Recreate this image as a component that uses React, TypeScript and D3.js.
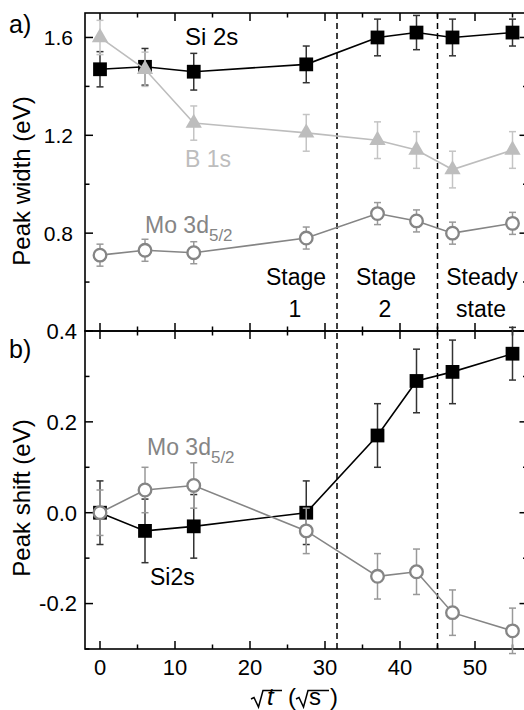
import React from "react";
import * as d3 from "d3";

const xs = [0, 6, 12.5, 27.5, 37, 42.2, 47, 55];
const siWidth = [1.47, 1.48, 1.46, 1.49, 1.6, 1.62, 1.6, 1.62];
const siWidthErr = [0.072, 0.075, 0.075, 0.075, 0.075, 0.07, 0.075, 0.055];
const bWidth = [1.6, 1.47, 1.25, 1.21, 1.18, 1.14, 1.06, 1.14];
const bWidthErr = [0.07, 0.07, 0.07, 0.075, 0.075, 0.075, 0.075, 0.075];
const moWidth = [0.71, 0.73, 0.72, 0.78, 0.88, 0.85, 0.8, 0.84];
const moWidthErr = [0.045, 0.045, 0.045, 0.045, 0.045, 0.045, 0.045, 0.045];
const siShift = [0, -0.04, -0.03, 0, 0.17, 0.29, 0.31, 0.35];
const siShiftErr = [0.07, 0.07, 0.07, 0.07, 0.07, 0.07, 0.07, 0.058];
const moShift = [0, 0.05, 0.06, -0.04, -0.14, -0.13, -0.22, -0.26];
const moShiftErr = [0.05, 0.05, 0.05, 0.05, 0.05, 0.05, 0.05, 0.05];
const stageBounds = [31.6, 45];
const xTicks = [0, 10, 20, 30, 40, 50];
const topYTicks = [0.8, 1.2, 1.6];
const topYMajor = [0.4, 0.8, 1.2, 1.6];
const botYTicks = [-0.2, 0.0, 0.2, 0.4];

const FONT = "'Liberation Sans', Arial, Helvetica, sans-serif";
const BLACK = "#000";
const LIGHT = "#bdbdbd";
const GRAY = "#858585";

const W = 524, H = 710;
const x = d3.scaleLinear().domain([-2, 57]).range([85, 527.5]);
const yTop = d3.scaleLinear().domain([0.4, 1.7]).range([331, 13]);
const yBot = d3.scaleLinear().domain([-0.3, 0.4]).range([649, 331]);

type Scale = d3.ScaleLinear<number, number>;

const fmt = (v: number) => d3.format(".1f")(v).replace("\u2212", "-");

function Series({ vals, errs, y, color, errColor, kind }: { vals: number[]; errs: number[]; y: Scale; color: string; errColor: string; kind: string }) {
  const line = d3.line<number>().x((_, i) => x(xs[i])).y((v) => y(v));
  const sym = kind === "square" ? d3.symbol(d3.symbolSquare, 190)() : kind === "triangle" ? d3.symbol(d3.symbolTriangle, 115)() : null;
  return (
    <g>
      <path d={line(vals) || ""} fill="none" stroke={color} strokeWidth={1.6} />
      {vals.map((v, i) => {
        const cx = x(xs[i]);
        const y1 = y(v + errs[i]);
        const y2 = y(v - errs[i]);
        return (
          <g key={"e" + i} stroke={errColor} strokeWidth={1.5}>
            <line x1={cx} x2={cx} y1={y1} y2={y2} />
            <line x1={cx - 3.5} x2={cx + 3.5} y1={y1} y2={y1} />
            <line x1={cx - 3.5} x2={cx + 3.5} y1={y2} y2={y2} />
          </g>
        );
      })}
      {vals.map((v, i) => {
        const cx = x(xs[i]);
        const cy = y(v);
        if (kind === "circle") {
          return <circle key={"m" + i} cx={cx} cy={cy} r={6.3} fill="#fff" stroke={color} strokeWidth={2.3} />;
        }
        return <path key={"m" + i} d={sym || ""} transform={`translate(${cx},${cy})`} fill={color} />;
      })}
    </g>
  );
}

function Frame({ y, top, bottom, yMajor, yLabels, yMinorStep, labelX, labelSize }: { y: Scale; top: number; bottom: number; yMajor: number[]; yLabels: number[]; yMinorStep: number; labelX: number; labelSize: number }) {
  const xMinor = d3.range(0, 60, 5);
  const [d0, d1] = y.domain();
  const yAll = d3.range(Math.round(d0 / yMinorStep), Math.round(d1 / yMinorStep) + 1).map((k) => k * yMinorStep);
  const isMajor = (v: number) => yMajor.some((m) => Math.abs(m - v) < 1e-6);
  const x0 = x.range()[0];
  const x1 = x.range()[1];
  return (
    <g>
      <g stroke={BLACK} strokeWidth={1.5}>
        {xMinor.map((t) => {
          const len = t % 10 === 0 ? 8 : 4.5;
          return (
            <g key={"xt" + t}>
              <line x1={x(t)} x2={x(t)} y1={top} y2={top + len} />
              <line x1={x(t)} x2={x(t)} y1={bottom} y2={bottom - len} />
            </g>
          );
        })}
        {yAll.map((v) => {
          const len = isMajor(v) ? 8 : 4.5;
          return (
            <g key={"yt" + v}>
              <line x1={x0} x2={x0 + len} y1={y(v)} y2={y(v)} />
              <line x1={x1} x2={x1 - len} y1={y(v)} y2={y(v)} />
            </g>
          );
        })}
      </g>
      <rect x={x0} y={top} width={x1 - x0} height={bottom - top} fill="none" stroke={BLACK} strokeWidth={1.6} />
      {yLabels.map((v) => (
        <text key={"yl" + v} x={labelX} y={y(v)} dy="0.36em" textAnchor="end" fontSize={labelSize} fontFamily={FONT} fill={BLACK}>
          {fmt(v)}
        </text>
      ))}
    </g>
  );
}

export default function App() {
  return (
    <svg width={W} height={H} style={{ position: "absolute", left: 0, top: 0, background: "#fff" }} fontFamily={FONT}>
      <rect width={W} height={H} fill="#fff" />
      <Frame y={yTop} top={13} bottom={331} yMajor={topYMajor} yLabels={topYTicks} yMinorStep={0.2} labelX={73} labelSize={21} />
      <Frame y={yBot} top={331} bottom={649} yMajor={botYTicks} yLabels={botYTicks} yMinorStep={0.1} labelX={77} labelSize={22} />
      {/* stage boundaries */}
      {stageBounds.map((b) => (
        <line key={b} x1={x(b)} x2={x(b)} y1={13} y2={649} stroke={BLACK} strokeWidth={1.5} strokeDasharray="6,4" />
      ))}
      {/* top panel series */}
      <Series vals={moWidth} errs={moWidthErr} y={yTop} color={GRAY} errColor="#999" kind="circle" />
      <Series vals={siWidth} errs={siWidthErr} y={yTop} color={BLACK} errColor="#333" kind="square" />
      <Series vals={bWidth} errs={bWidthErr} y={yTop} color={LIGHT} errColor="#c4c4c4" kind="triangle" />
      {/* bottom panel series */}
      <Series vals={siShift} errs={siShiftErr} y={yBot} color={BLACK} errColor="#333" kind="square" />
      <Series vals={moShift} errs={moShiftErr} y={yBot} color={GRAY} errColor="#999" kind="circle" />

      {/* x tick labels */}
      {xTicks.map((t) => (
        <text key={"xl" + t} x={x(t)} y={675} textAnchor="middle" fontSize={22} fill={BLACK}>
          {t}
        </text>
      ))}

      {/* panel letters */}
      <text x={9} y={33} fontSize={25} fill={BLACK}>a)</text>
      <text x={9} y={358} fontSize={25} fill={BLACK}>b)</text>

      {/* axis titles */}
      <text transform="translate(30,181) rotate(-90)" textAnchor="middle" fontSize={24} fill={BLACK}>Peak width (eV)</text>
      <text transform="translate(30,498) rotate(-90)" textAnchor="middle" fontSize={24} fill={BLACK}>Peak shift (eV)</text>

      {/* series labels, top */}
      <text x={185} y={45} fontSize={24} fill={BLACK}>Si 2s</text>
      <text x={185} y={167} fontSize={23} fill={LIGHT}>B 1s</text>
      <text x={145} y={233} fontSize={23} fill={GRAY}>
        Mo 3d<tspan fontSize={17} dy={8}>5/2</tspan>
      </text>
      {/* series labels, bottom */}
      <text x={147} y={455} fontSize={23} fill={GRAY}>
        Mo 3d<tspan fontSize={17} dy={8}>5/2</tspan>
      </text>
      <text x={150} y={585} fontSize={23} fill={BLACK}>Si2s</text>

      {/* stage labels */}
      <g fontSize={23} fill={BLACK} textAnchor="middle">
        <text x={296} y={285}>Stage</text>
        <text x={295} y={317}>1</text>
        <text x={386} y={285}>Stage</text>
        <text x={385} y={317}>2</text>
        <text x={482} y={285}>Steady</text>
        <text x={481} y={317}>state</text>
      </g>

      {/* x axis title: sqrt(t) (sqrt(s)) */}
      <g fill="none" stroke={BLACK} strokeWidth={1.5} strokeLinejoin="miter">
        <path d="M251,699 L254,697.5 L258.5,707 L263,690.5 L282,690.5" />
        <path d="M296,699 L299,697.5 L303.5,707 L308,690.5 L329,690.5" />
      </g>
      <g fill={BLACK} fontSize={24}>
        <text x={267} y={705} fontStyle="italic">t</text>
        <text x={288} y={705}>(</text>
        <text x={309} y={705}>s</text>
        <text x={330} y={705}>)</text>
      </g>
    </svg>
  );
}
